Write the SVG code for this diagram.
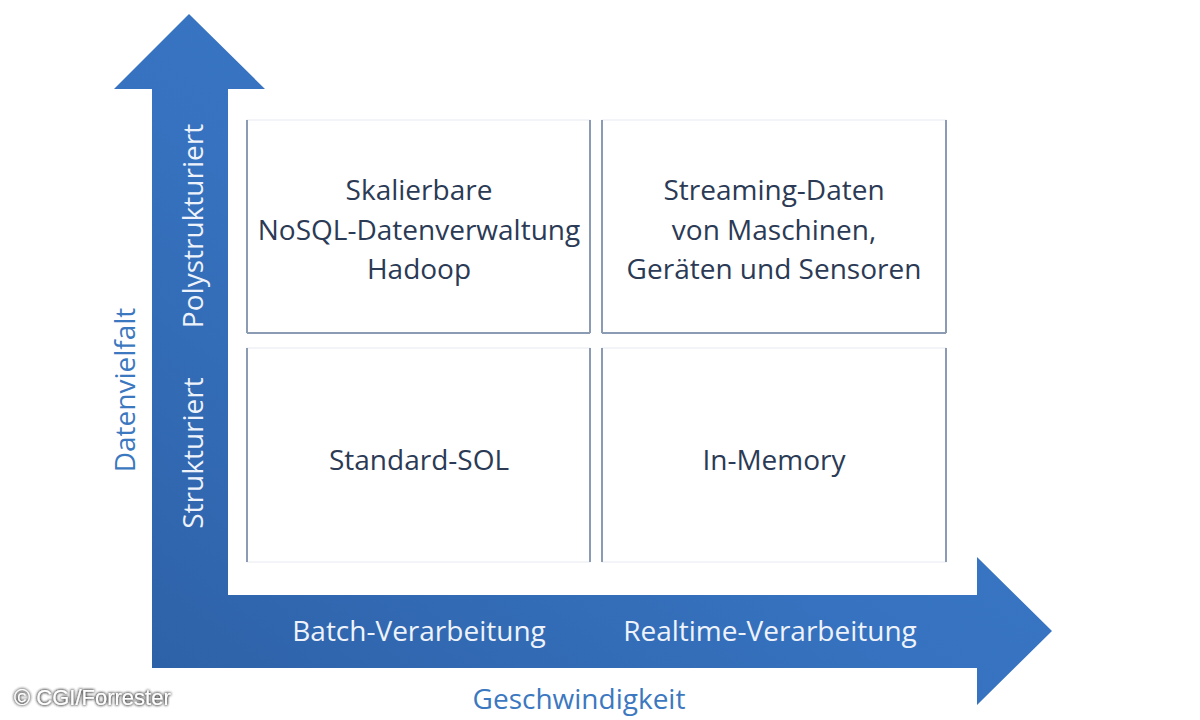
<svg xmlns="http://www.w3.org/2000/svg" width="1200" height="720" viewBox="0 0 1200 720">
<style>
.cell rect{fill:#ffffff;stroke:#e6eaf0;stroke-width:1}
.cell line{stroke:#8a9bb3;stroke-width:2}
.ct{font-family:"Open Sans","Noto Sans",sans-serif;font-size:28px;fill:#2b3a55;text-anchor:middle}
.at{font-family:"Open Sans","Noto Sans",sans-serif;font-size:28px;fill:#eef3fb;text-anchor:middle}
.ax{font-family:"Open Sans","Noto Sans",sans-serif;font-size:28px;fill:#3c78c0;text-anchor:middle}
.cp{font-family:"Liberation Sans",Arial,sans-serif;font-size:22px;fill:#ffffff}
</style>
<defs>
<linearGradient id="ag" x1="0" y1="1" x2="1" y2="0">
<stop offset="0" stop-color="#2d60a5"/>
<stop offset="0.45" stop-color="#3672bf"/>
<stop offset="1" stop-color="#3c7bc8"/>
</linearGradient>
<filter id="glow" x="-10%" y="-40%" width="120%" height="180%">
<feGaussianBlur in="SourceAlpha" stdDeviation="1.6" result="b"/>
<feFlood flood-color="#333333"/>
<feComposite in2="b" operator="in" result="s"/>
<feMerge><feMergeNode in="s"/><feMergeNode in="s"/><feMergeNode in="SourceGraphic"/></feMerge>
</filter>
</defs>
<rect width="1200" height="720" fill="#ffffff"/>
<g id="connectors">
<polygon id="axes" fill="url(#ag)" points="189,14 265,89 228,89 228,595 977,595 977,557 1052,631 977,705 977,668 152,668 152,89 114,89"/>
</g>
<g id="axis-labels">
<text class="at" transform="translate(203,226) rotate(-90)">Polystrukturiert</text>
<text class="at" transform="translate(203,453) rotate(-90)">Strukturiert</text>
<text class="at" x="419" y="641">Batch-Verarbeitung</text>
<text class="at" x="770" y="641">Realtime-Verarbeitung</text>
<text class="ax" transform="translate(135,390) rotate(-90)">Datenvielfalt</text>
<text class="ax" x="579" y="709">Geschwindigkeit</text>
</g>
<g id="cell-nosql" class="cell">
<rect x="247" y="120" width="343" height="213"/>
<line x1="247" y1="120" x2="247" y2="333"/><line x1="590" y1="120" x2="590" y2="333"/><line x1="247" y1="333" x2="590" y2="333"/>
<text class="ct" x="419" y="200">Skalierbare</text>
<text class="ct" x="419" y="240">NoSQL-Datenverwaltung</text>
<text class="ct" x="419" y="279">Hadoop</text>
</g>
<g id="cell-streaming" class="cell">
<rect x="602" y="120" width="344" height="213"/>
<line x1="602" y1="120" x2="602" y2="333"/><line x1="946" y1="120" x2="946" y2="333"/><line x1="602" y1="333" x2="946" y2="333"/>
<text class="ct" x="774" y="200">Streaming-Daten</text>
<text class="ct" x="774" y="240">von Maschinen,</text>
<text class="ct" x="774" y="279">Geräten und Sensoren</text>
</g>
<g id="cell-sql" class="cell">
<rect x="247" y="348" width="343" height="214"/>
<line x1="247" y1="348" x2="247" y2="562"/><line x1="590" y1="348" x2="590" y2="562"/>
<text class="ct" x="419" y="470">Standard-SOL</text>
</g>
<g id="cell-inmemory" class="cell">
<rect x="602" y="348" width="344" height="214"/>
<line x1="602" y1="348" x2="602" y2="562"/><line x1="946" y1="348" x2="946" y2="562"/>
<text class="ct" x="774" y="470">In-Memory</text>
</g>
<text class="cp" x="14" y="705" filter="url(#glow)">© CGI/Forrester</text>
</svg>
